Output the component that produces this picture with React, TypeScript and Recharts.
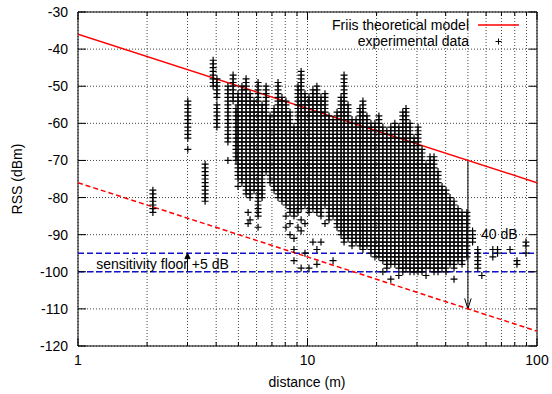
import { ScatterChart, Scatter, XAxis, YAxis, CartesianGrid, ReferenceLine, ReferenceArea, ReferenceDot } from 'recharts';

const X_TICKS = [1, 2, 3, 4, 5, 6, 7, 8, 9, 10, 20, 30, 40, 50, 60, 70, 80, 90, 100];
const X_LABELS = [1, 10, 100];
const Y_TICKS = [-120, -110, -100, -90, -80, -70, -60, -50, -40, -30];

// Friis model and the same line shifted by 40 dB
const FRIIS = [{ d: 1, rss: -36 }, { d: 100, rss: -76 }];
const FRIIS_LOW = [{ d: 1, rss: -76 }, { d: 100, rss: -116 }];
const FLOOR_LEVELS = [-95, -100];

// measured distances (m) and the RSS readings (dBm) taken at each one
const DISTANCES = [
  2.12, 3.01, 3.58, 3.88, 4.03, 4.5, 4.74, 4.88, 4.98, 5.18,
  5.4, 5.51, 5.62, 5.85, 6.09, 6.34, 6.6, 6.87, 7.15, 7.44,
  7.74, 8.06, 8.39, 8.73, 9.09, 9.38, 9.75, 10.15, 10.56, 10.99,
  11.45, 11.92, 12.41, 12.92, 13.45, 14.0, 14.43, 15.02, 15.63, 16.27,
  16.93, 17.44, 18.15, 18.9, 19.67, 20.47, 21.3, 22.17, 23.07, 24.02,
  25.0, 26.02, 26.87, 27.97, 29.12, 30.31, 31.55, 32.84, 34.19, 35.59,
  37.04, 38.56, 40.14, 41.78, 43.49, 45.28, 47.13, 49.5, 52.4, 55.2,
  57.5, 64.2, 67.3, 76.3, 81.8, 89.5,
];

const RSS = [
  [-78, -79, -80, -81, -82, -83, -84],
  [-54, -55, -56, -57, -58, -59, -60, -61, -62, -63, -64, -67],
  [-71, -72, -73, -74, -75, -76, -77, -78, -79, -80, -81],
  [-43, -44, -45, -46, -47, -48, -49, -50],
  [-48, -49, -50, -51, -52, -53, -55, -56, -57, -58, -59, -60, -61],
  [-50, -51, -52, -53, -54, -55, -56, -57, -58, -59, -60, -61, -62, -63, -64, -65, -70],
  [-47, -48, -49, -50, -51, -52, -53, -54],
  [-56, -57, -58, -59, -60, -61, -62, -63, -64, -65, -66, -67, -68, -69, -70],
  [-52, -53, -54, -55, -56, -57, -58, -59, -60, -61, -62, -63, -64, -65, -66, -67, -68, -69, -70, -71, -72, -73, -74, -75, -77],
  [-50, -51, -52, -53, -54, -55, -56, -57, -58, -59, -60, -61, -62, -63, -64, -65, -66, -67, -68, -69, -70, -71, -72, -73, -74, -75, -76],
  [-48, -49, -50, -51, -52, -53, -54, -55, -56, -57, -58, -59, -60, -61, -62, -63, -64, -65, -66, -67, -68, -69, -70, -71, -72, -73, -74, -75, -76, -77, -78, -79],
  [-84, -87],
  [-52, -53, -54, -55, -56, -57, -58, -59, -60, -61, -62, -63, -64, -65, -66, -67, -68, -69, -70, -71, -72, -73, -74, -75, -76, -77, -78, -79, -80, -86],
  [-54, -55, -56, -57, -58, -59, -60, -61, -62, -63, -64, -65, -66, -67, -68, -69, -70, -71, -72, -73, -74, -75, -76, -77, -78],
  [-49, -50, -51, -52, -53, -54, -55, -56, -57, -58, -59, -60, -61, -62, -63, -64, -65, -66, -67, -68, -69, -70, -71, -72, -73, -74, -75, -76, -77, -78, -79, -80, -81, -82, -83, -84, -85, -88],
  [-55, -56, -57, -58, -59, -60, -61, -62, -63, -64, -65, -66, -67, -68, -69, -70, -71, -72, -73, -74, -75, -76, -77, -78, -79, -80],
  [-50, -51, -52, -53, -54, -55, -56, -57, -58, -59, -60, -61, -62, -63, -64, -65, -66, -67, -68, -69, -70, -71, -72, -73],
  [-58, -59, -60, -61, -62, -63, -64, -65, -66, -67, -68, -69, -70, -71, -72, -73, -74, -75, -76],
  [-56, -57, -58, -59, -60, -61, -62, -63, -64, -65, -66, -67, -68, -69, -70, -71, -72, -73, -74, -75, -76, -77, -78],
  [-49, -50, -51, -52, -53, -54, -55, -56, -57, -58, -59, -60, -61, -62, -63, -64, -65, -66, -67, -68, -69, -70, -71, -72, -73, -74, -75, -76, -77, -78, -79, -80],
  [-53, -54, -55, -56, -57, -58, -59, -60, -61, -62, -63, -64, -65, -66, -67, -68, -69, -70, -71, -72, -73, -74, -75, -76, -77, -78, -79, -80, -81],
  [-54, -55, -56, -57, -58, -59, -60, -61, -62, -63, -64, -65, -66, -67, -68, -69, -70, -71, -72, -73, -74, -75, -76, -77, -78, -79, -80, -81, -82, -85, -88],
  [-57, -58, -59, -60, -61, -62, -63, -64, -65, -66, -67, -68, -69, -70, -71, -72, -73, -74, -75, -76, -77, -78, -79, -80, -81, -82, -83, -84, -87, -90],
  [-61, -62, -63, -64, -65, -66, -67, -68, -69, -70, -71, -72, -73, -74, -75, -76, -77, -78, -79, -80, -81, -82, -83, -84, -85, -91, -94, -97],
  [-50, -51, -52, -53, -54, -55, -56, -57, -58, -59, -60, -61, -62, -63, -64, -65, -66, -67, -68, -69, -70, -71, -72, -73, -74, -75, -76, -77, -78, -79, -80, -81, -82, -83, -84, -88],
  [-46, -47, -48, -49, -50, -51, -52, -53, -54, -55, -56, -57, -58, -59, -60, -61, -62, -63, -64, -65, -66, -67, -68, -69, -70, -71, -72, -73, -74, -75, -76, -77, -78, -79, -80, -81, -82, -83, -86, -89, -99],
  [-52, -53, -54, -55, -56, -57, -58, -59, -60, -61, -62, -63, -64, -65, -66, -67, -68, -69, -70, -71, -72, -73, -74, -75, -76, -77, -78, -79, -80, -81, -82, -87, -95],
  [-53, -54, -55, -56, -57, -58, -59, -60, -61, -62, -63, -64, -65, -66, -67, -68, -69, -70, -71, -72, -73, -74, -75, -76, -77, -78, -79, -80, -81, -82, -83, -84, -99],
  [-51, -52, -53, -54, -55, -56, -57, -58, -59, -60, -61, -62, -63, -64, -65, -66, -67, -68, -69, -70, -71, -72, -73, -74, -75, -76, -77, -78, -79, -80, -81, -82, -83, -92],
  [-50, -51, -52, -53, -54, -55, -56, -57, -58, -59, -60, -61, -62, -63, -64, -65, -66, -67, -68, -69, -70, -71, -72, -73, -74, -75, -76, -77, -78, -79, -80, -81, -82, -83, -84, -94, -98],
  [-53, -54, -55, -56, -57, -58, -59, -60, -61, -62, -63, -64, -65, -66, -67, -68, -69, -70, -71, -72, -73, -74, -75, -76, -77, -78, -79, -80, -81, -82, -83, -84, -85, -92],
  [-52, -53, -54, -55, -56, -57, -58, -59, -60, -61, -62, -63, -64, -65, -66, -67, -68, -69, -70, -71, -72, -73, -74, -75, -76, -77, -78, -79, -80, -81, -82, -87],
  [-58, -59, -60, -61, -62, -63, -64, -65, -66, -67, -68, -69, -70, -71, -72, -73, -74, -75, -76, -77, -78, -79, -80, -81, -82, -83, -84, -85, -86],
  [-59, -60, -61, -62, -63, -64, -65, -66, -67, -68, -69, -70, -71, -72, -73, -74, -75, -76, -77, -78, -79, -80, -81, -82, -83, -84, -85, -97],
  [-57, -58, -59, -60, -61, -62, -63, -64, -65, -66, -67, -68, -69, -70, -71, -72, -73, -74, -75, -76, -77, -78, -79, -80, -81, -82, -83, -84, -85, -86, -87, -88],
  [-53, -54, -55, -56, -57, -58, -59, -60, -61, -62, -63, -64, -65, -66, -67, -68, -69, -70, -71, -72, -73, -74, -75, -76, -77, -78, -79, -80, -81, -82, -83, -84, -85, -86, -87, -88, -89, -90],
  [-47, -48, -49, -50, -51, -52, -53, -54, -55, -56, -57, -58, -59, -60, -61, -62, -63, -64, -65, -66, -67, -68, -69, -70, -71, -72, -73, -74, -75, -76, -77, -78, -79, -80, -81, -82, -83, -84, -85, -86, -87, -88, -89, -90, -91, -92],
  [-55, -56, -57, -58, -59, -60, -61, -62, -63, -64, -65, -66, -67, -68, -69, -70, -71, -72, -73, -74, -75, -76, -77, -78, -79, -80, -81, -82, -83, -84, -85, -86, -87, -88, -89, -90, -91],
  [-59, -60, -61, -62, -63, -64, -65, -66, -67, -68, -69, -70, -71, -72, -73, -74, -75, -76, -77, -78, -79, -80, -81, -82, -83, -84, -85, -86, -87, -88, -89, -90, -91, -92, -93],
  [-59, -60, -61, -62, -63, -64, -65, -66, -67, -68, -69, -70, -71, -72, -73, -74, -75, -76, -77, -78, -79, -80, -81, -82, -83, -84, -85, -86, -87, -88, -89, -90, -91, -92],
  [-56, -57, -58, -59, -60, -61, -62, -63, -64, -65, -66, -67, -68, -69, -70, -71, -72, -73, -74, -75, -76, -77, -78, -79, -80, -81, -82, -83, -84, -85, -86, -87, -88, -89, -90, -91, -92, -93],
  [-54, -55, -56, -57, -58, -59, -60, -61, -62, -63, -64, -65, -66, -67, -68, -69, -70, -71, -72, -73, -74, -75, -76, -77, -78, -79, -80, -81, -82, -83, -84, -85, -86, -87, -88, -89, -90, -91, -92, -93, -94],
  [-58, -59, -60, -61, -62, -63, -64, -65, -66, -67, -68, -69, -70, -71, -72, -73, -74, -75, -76, -77, -78, -79, -80, -81, -82, -83, -84, -85, -86, -87, -88, -89, -90, -91, -92, -93],
  [-60, -61, -62, -63, -64, -65, -66, -67, -68, -69, -70, -71, -72, -73, -74, -75, -76, -77, -78, -79, -80, -81, -82, -83, -84, -85, -86, -87, -88, -89, -90, -91, -92, -93, -94, -95],
  [-60, -61, -62, -63, -64, -65, -66, -67, -68, -69, -70, -71, -72, -73, -74, -75, -76, -77, -78, -79, -80, -81, -82, -83, -84, -85, -86, -87, -88, -89, -90, -91, -92, -93, -94, -95, -96],
  [-58, -59, -60, -61, -62, -63, -64, -65, -66, -67, -68, -69, -70, -71, -72, -73, -74, -75, -76, -77, -78, -79, -80, -81, -82, -83, -84, -85, -86, -87, -88, -89, -90, -91, -92, -93, -94, -95, -96],
  [-61, -62, -63, -64, -65, -66, -67, -68, -69, -70, -71, -72, -73, -74, -75, -76, -77, -78, -79, -80, -81, -82, -83, -84, -85, -86, -87, -88, -89, -90, -91, -92, -93, -94, -95, -96, -97, -100],
  [-62, -63, -64, -65, -66, -67, -68, -69, -70, -71, -72, -73, -74, -75, -76, -77, -78, -79, -80, -81, -82, -83, -84, -85, -86, -87, -88, -89, -90, -91, -92, -93, -94, -95, -96, -97, -98, -99],
  [-61, -62, -63, -64, -65, -66, -67, -68, -69, -70, -71, -72, -73, -74, -75, -76, -77, -78, -79, -80, -81, -82, -83, -84, -85, -86, -87, -88, -89, -90, -91, -92, -93, -94, -95, -96, -97, -98, -102],
  [-60, -61, -62, -63, -64, -65, -66, -67, -68, -69, -70, -71, -72, -73, -74, -75, -76, -77, -78, -79, -80, -81, -82, -83, -84, -85, -86, -87, -88, -89, -90, -91, -92, -93, -94, -95, -96, -97, -98],
  [-61, -62, -63, -64, -65, -66, -67, -68, -69, -70, -71, -72, -73, -74, -75, -76, -77, -78, -79, -80, -81, -82, -83, -84, -85, -86, -87, -88, -89, -90, -91, -92, -93, -94, -95, -96, -97, -98, -99, -101],
  [-57, -58, -59, -60, -61, -62, -63, -64, -65, -66, -67, -68, -69, -70, -71, -72, -73, -74, -75, -76, -77, -78, -79, -80, -81, -82, -83, -84, -85, -86, -87, -88, -89, -90, -91, -92, -93, -94, -95, -96, -97, -98, -99, -100],
  [-56, -57, -58, -59, -60, -61, -62, -63, -64, -65, -66, -67, -68, -69, -70, -71, -72, -73, -74, -75, -76, -77, -78, -79, -80, -81, -82, -83, -84, -85, -86, -87, -88, -89, -90, -91, -92, -93, -94, -95, -96, -97, -98, -99],
  [-60, -61, -62, -63, -64, -65, -66, -67, -68, -69, -70, -71, -72, -73, -74, -75, -76, -77, -78, -79, -80, -81, -82, -83, -84, -85, -86, -87, -88, -89, -90, -91, -92, -93, -94, -95, -96, -97, -98, -99, -100],
  [-64, -65, -66, -67, -68, -69, -70, -71, -72, -73, -74, -75, -76, -77, -78, -79, -80, -81, -82, -83, -84, -85, -86, -87, -88, -89, -90, -91, -92, -93, -94, -95, -96, -97, -98, -99, -100],
  [-61, -62, -63, -64, -65, -66, -67, -68, -69, -70, -71, -72, -73, -74, -75, -76, -77, -78, -79, -80, -81, -82, -83, -84, -85, -86, -87, -88, -89, -90, -91, -92, -93, -94, -95, -96, -97, -98, -99, -100],
  [-67, -68, -69, -70, -71, -72, -73, -74, -75, -76, -77, -78, -79, -80, -81, -82, -83, -84, -85, -86, -87, -88, -89, -90, -91, -92, -93, -94, -95, -96, -97, -98, -99, -100],
  [-71, -72, -73, -74, -75, -76, -77, -78, -79, -80, -81, -82, -83, -84, -85, -86, -87, -88, -89, -90, -91, -92, -93, -94, -95, -96, -97, -98, -99, -101],
  [-69, -70, -71, -72, -73, -74, -75, -76, -77, -78, -79, -80, -81, -82, -83, -84, -85, -86, -87, -88, -89, -90, -91, -92, -93, -94, -95, -96, -97, -98, -99],
  [-69, -70, -71, -72, -73, -74, -75, -76, -77, -78, -79, -80, -81, -82, -83, -84, -85, -86, -87, -88, -89, -90, -91, -92, -93, -94, -95, -96, -97, -98, -99, -100],
  [-73, -74, -75, -76, -77, -78, -79, -80, -81, -82, -83, -84, -85, -86, -87, -88, -89, -90, -91, -92, -93, -94, -95, -96, -97, -98, -99, -100],
  [-77, -78, -79, -80, -81, -82, -83, -84, -85, -86, -87, -88, -89, -90, -91, -92, -93, -94, -95, -96, -97, -98, -99],
  [-78, -79, -80, -81, -82, -83, -84, -85, -86, -87, -88, -89, -90, -91, -92, -93, -94, -95, -96, -97, -98, -99, -100],
  [-80, -81, -82, -83, -84, -85, -86, -87, -88, -89, -90, -91, -92, -93, -94, -95, -96, -97, -98],
  [-81, -82, -83, -84, -85, -86, -87, -88, -89, -90, -91, -92, -93, -94, -95, -96, -97, -98, -99, -102],
  [-83, -84, -85, -86, -87, -88, -89, -90, -91, -92, -93, -94, -95, -96, -97],
  [-84, -85, -86, -87, -88, -89, -90, -91, -92, -93, -94, -95, -96, -97, -98],
  [-84, -85, -86, -87, -88, -89, -90, -91, -92, -93, -94, -95, -96],
  [-89, -90, -91, -92],
  [-94, -95, -96, -97, -98, -99],
  [-101],
  [-94, -96],
  [-94, -95],
  [-94],
  [-97, -98],
  [-92, -93, -95],
];

const points = DISTANCES.flatMap((d, i) => RSS[i].map((rss) => ({ d, rss })));

const W = 552;
const H = 394;
const PLOT_TOP = 12;
const PLOT_BOTTOM = 346;
const PLOT_LEFT = 78;
const PLOT_RIGHT = 537;
const FONT = '"Liberation Sans", Arial, Helvetica, sans-serif';

const Plus = (p: any) => (
  <path
    d={`M${p.cx - 3.5},${p.cy}h7M${p.cx},${p.cy - 3.5}v7`}
    stroke="#000"
    strokeWidth={1.2}
    fill="none"
  />
);

const XTick = ({ x, payload }: any) => {
  const major = X_LABELS.includes(payload.value);
  const len = major ? 8 : 4;
  return (
    <g>
      <line x1={x} x2={x} y1={PLOT_BOTTOM} y2={PLOT_BOTTOM - len} stroke="#000" />
      <line x1={x} x2={x} y1={PLOT_TOP} y2={PLOT_TOP + len} stroke="#000" />
      {major && (
        <text x={x} y={365} textAnchor="middle" fontSize={14} fontFamily={FONT} fill="#000">
          {payload.value}
        </text>
      )}
    </g>
  );
};

const YTick = ({ y, payload }: any) => (
  <g>
    <line x1={PLOT_LEFT} x2={PLOT_LEFT + 8} y1={y} y2={y} stroke="#000" />
    <line x1={PLOT_RIGHT - 8} x2={PLOT_RIGHT} y1={y} y2={y} stroke="#000" />
    <text x={68} y={y + 5} textAnchor="end" fontSize={14} fontFamily={FONT} fill="#000">
      {payload.value}
    </text>
  </g>
);

const makeArrow = (filled: boolean) => (p: any) => {
  const { x1, y1, x2, y2 } = p;
  const a = Math.atan2(y2 - y1, x2 - x1);
  const len = filled ? 6 : 11;
  const spread = filled ? 0.45 : 0.3;
  const lx = x2 - len * Math.cos(a - spread);
  const ly = y2 - len * Math.sin(a - spread);
  const rx = x2 - len * Math.cos(a + spread);
  const ry = y2 - len * Math.sin(a + spread);
  return (
    <g>
      <line x1={x1} y1={y1} x2={x2} y2={y2} stroke="#000" strokeWidth={1} />
      {filled ? (
        <path d={`M${lx},${ly}L${x2},${y2}L${rx},${ry}Z`} fill="#000" stroke="#000" />
      ) : (
        <path d={`M${lx},${ly}L${x2},${y2}L${rx},${ry}`} fill="none" stroke="#000" strokeWidth={1} />
      )}
    </g>
  );
};

const label = (text: string) => (p: any) => (
  <text x={p.cx} y={p.cy} fontSize={14} fontFamily={FONT} fill="#000">
    {text}
  </text>
);

export default function App() {
  return (
    <div style={{ position: 'relative', width: W, height: H, background: '#fff' }}>
      <style>{'body{margin:0;background:#fff}'}</style>
      <ScatterChart width={W} height={H} margin={{ top: PLOT_TOP, right: W - PLOT_RIGHT, bottom: 0, left: 0 }}>
        <CartesianGrid stroke="#444" strokeDasharray="1 2" />
        <XAxis
          type="number"
          dataKey="d"
          scale="log"
          domain={[1, 100]}
          ticks={X_TICKS}
          allowDataOverflow
          height={H - PLOT_BOTTOM}
          tick={<XTick />}
          tickLine={false}
          axisLine={false}
          interval={0}
        />
        <YAxis
          type="number"
          dataKey="rss"
          domain={[-120, -30]}
          ticks={Y_TICKS}
          allowDataOverflow
          width={PLOT_LEFT}
          tick={<YTick />}
          tickLine={false}
          axisLine={false}
          interval={0}
        />
        <Scatter data={FRIIS} line={{ stroke: '#ff0000', strokeWidth: 1.5 }} shape={() => <g />} isAnimationActive={false} />
        <Scatter
          data={FRIIS_LOW}
          line={{ stroke: '#ff0000', strokeWidth: 1.5, strokeDasharray: '5 3' }}
          shape={() => <g />}
          isAnimationActive={false}
        />
        <Scatter data={points} shape={Plus} isAnimationActive={false} />
        {FLOOR_LEVELS.map((v) => (
          <ReferenceLine key={v} y={v} stroke="#1010d0" strokeWidth={1.5} strokeDasharray="6 3" />
        ))}
        <ReferenceLine segment={[{ x: 3, y: -100 }, { x: 3, y: -95 }]} shape={makeArrow(true)} />
        <ReferenceLine segment={[{ x: 50, y: -70 }, { x: 50, y: -110 }]} shape={makeArrow(false)} />
        <ReferenceDot x={57} y={-91.2} r={0} shape={label('40 dB')} />
        <ReferenceDot x={1.2} y={-99.2} r={0} shape={label('sensitivity floor +5 dB')} />
        <ReferenceArea x1={1} x2={100} y1={-120} y2={-30} fill="none" stroke="#000" strokeWidth={1} />
      </ScatterChart>
      <svg width={W} height={H} style={{ position: 'absolute', left: 0, top: 0, pointerEvents: 'none' }}>
        <g fontFamily={FONT} fontSize={14} fill="#000">
          <text x={469} y={30} textAnchor="end">Friis theoretical model</text>
          <text x={469} y={46} textAnchor="end">experimental data</text>
          <text x={22} y={179} textAnchor="middle" transform="rotate(-90 22 179)">RSS (dBm)</text>
          <text x={307} y={387} textAnchor="middle">distance (m)</text>
        </g>
        <line x1={478} x2={519} y1={25} y2={25} stroke="#ff0000" strokeWidth={1.5} />
        <path d="M495.5,41.5h6M498.5,38.5v6" stroke="#000" strokeWidth={1} fill="none" />
      </svg>
    </div>
  );
}
